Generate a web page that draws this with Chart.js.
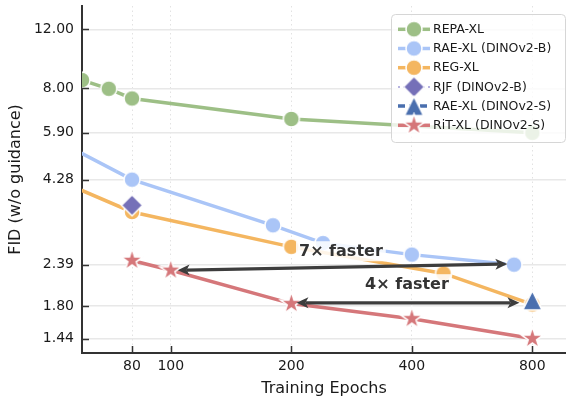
<!DOCTYPE html>
<html>
<head>
<meta charset="utf-8">
<script src="https://cdn.jsdelivr.net/npm/chart.js@4.4.0/dist/chart.umd.min.js"></script>
<style>
  html, body { margin: 0; padding: 0; background: #fff; overflow: hidden; }
</style>
</head>
<body>
<canvas id="fidChart" width="566" height="398"></canvas>
<script>
// values (epochs on x, FID w/o guidance on y)
const repaEpochs = [60, 70, 80, 200, 800];
const repaFid = [8.47, 7.98, 7.47, 6.49, 5.90];
const raeBEpochs = [40, 80, 180, 240, 400, 720];
const raeBFid = [6.6, 4.28, 3.13, 2.77, 2.56, 2.39];
const regEpochs = [40, 80, 200, 480, 800];
const regFid = [4.89, 3.43, 2.70, 2.25, 1.82];
const rjfEpochs = [80];
const rjfFid = [3.59];
const raeSEpochs = [800];
const raeSFid = [1.87];
const ritEpochs = [80, 100, 200, 400, 800];
const ritFid = [2.46, 2.30, 1.83, 1.65, 1.44];

const xTicks = [80, 100, 200, 400, 800];
const yTicks = [1.44, 1.80, 2.39, 4.28, 5.90, 8.00, 12.00];

const FONT = "'DejaVu Sans', sans-serif";
const TEXT = '#1a1a1a';
const AXIS = '#333333';

// small canvases used as point styles (matplotlib-like markers with white edge)
function makeMarker(shape, color, size) {
    const c = document.createElement('canvas');
    const dim = Math.ceil(size * 2 + 4);
    c.width = dim;
    c.height = dim;
    const g = c.getContext('2d');
    const m = dim / 2;
    g.beginPath();
    if (shape === 'circle') {
        g.arc(m, m, size, 0, Math.PI * 2);
    } else if (shape === 'diamond') {
        g.moveTo(m, m - size);
        g.lineTo(m + size, m);
        g.lineTo(m, m + size);
        g.lineTo(m - size, m);
    } else if (shape === 'triangle') {
        g.moveTo(m, m - size);
        g.lineTo(m + size, m + size);
        g.lineTo(m - size, m + size);
    } else if (shape === 'star') {
        for (let i = 0; i < 10; i++) {
            const r = i % 2 === 0 ? size : size * 0.382;
            const a = -Math.PI / 2 + i * Math.PI / 5;
            const px = m + r * Math.cos(a);
            const py = m + r * Math.sin(a);
            if (i === 0) g.moveTo(px, py); else g.lineTo(px, py);
        }
    }
    g.closePath();
    g.fillStyle = color;
    g.fill();
    g.lineWidth = 1.5;
    g.strokeStyle = '#ffffff';
    g.stroke();
    return c;
}

const series = [
    { label: 'REPA-XL', x: repaEpochs, y: repaFid, color: '#9dbf86', shape: 'circle', size: 8, dash: [], order: 6 },
    { label: 'RAE-XL (DINOv2-B)', x: raeBEpochs, y: raeBFid, color: '#aac5f7', shape: 'circle', size: 8, dash: [], order: 5 },
    { label: 'REG-XL', x: regEpochs, y: regFid, color: '#f4b660', shape: 'circle', size: 8, dash: [], order: 4 },
    { label: 'RJF (DINOv2-B)', x: rjfEpochs, y: rjfFid, color: '#7570b8', shape: 'diamond', size: 10.5, dash: [2, 3], lineColor: '#b7b4e0', order: 3 },
    { label: 'RAE-XL (DINOv2-S)', x: raeSEpochs, y: raeSFid, color: '#4a6fae', shape: 'triangle', size: 9.5, dash: [7, 4], order: 2 },
    { label: 'RiT-XL (DINOv2-S)', x: ritEpochs, y: ritFid, color: '#d5777a', shape: 'star', size: 11.5, dash: [], order: 1 }
];
series.forEach(s => { s.marker = makeMarker(s.shape, s.color, s.size); });

// speed-up annotations, placed in data coordinates
const notes = [
    { text: '7\u00d7 faster', at: [266, 2.62], from: [104, 2.30], to: [693, 2.40] },
    { text: '4\u00d7 faster', at: [389, 2.09], from: [206, 1.84], to: [743, 1.84] }
];

function arrowHead(ctx, x, y, ang) {
    const len = 12, half = 5.5, notch = 3;
    ctx.save();
    ctx.translate(x, y);
    ctx.rotate(ang);
    ctx.beginPath();
    ctx.moveTo(0, 0);
    ctx.lineTo(-len, -half);
    ctx.lineTo(-len + notch, 0);
    ctx.lineTo(-len, half);
    ctx.closePath();
    ctx.fill();
    ctx.restore();
}

// fixed axis boxes, no extra room for half tick labels
function fixBox(size) {
    return s => {
        if (s.isHorizontal()) s.height = size; else s.width = size;
        s.paddingTop = 0;
        s.paddingBottom = 0;
        s.paddingLeft = 0;
        s.paddingRight = 0;
    };
}

const overlay = {
    id: 'overlay',
    afterDatasetsDraw(chart) {
        const ctx = chart.ctx;
        const xs = chart.scales.x, ys = chart.scales.y;
        const area = chart.chartArea;

        // inward tick marks
        ctx.save();
        ctx.strokeStyle = AXIS;
        ctx.lineWidth = 1.5;
        ctx.beginPath();
        yTicks.forEach(v => {
            const py = Math.round(ys.getPixelForValue(v)) + 0.5;
            ctx.moveTo(area.left, py);
            ctx.lineTo(area.left + 7, py);
        });
        xTicks.forEach(v => {
            const px = Math.round(xs.getPixelForValue(v)) + 0.5;
            ctx.moveTo(px, area.bottom);
            ctx.lineTo(px, area.bottom - 7);
        });
        ctx.stroke();
        ctx.restore();

        // annotation text with white box
        ctx.save();
        ctx.font = 'bold 16px ' + FONT;
        ctx.textAlign = 'center';
        ctx.textBaseline = 'middle';
        notes.forEach(n => {
            const px = xs.getPixelForValue(n.at[0]);
            const py = ys.getPixelForValue(n.at[1]);
            const w = ctx.measureText(n.text).width;
            ctx.fillStyle = 'rgba(255,255,255,0.85)';
            ctx.fillRect(px - w / 2 - 3, py - 10, w + 6, 20);
            ctx.fillStyle = '#333333';
            ctx.fillText(n.text, px, py + 1);
        });
        ctx.restore();

        // double-headed arrows
        ctx.save();
        ctx.strokeStyle = '#3d3d3d';
        ctx.fillStyle = '#3d3d3d';
        ctx.lineWidth = 3.2;
        notes.forEach(n => {
            const x1 = xs.getPixelForValue(n.from[0]), y1 = ys.getPixelForValue(n.from[1]);
            const x2 = xs.getPixelForValue(n.to[0]), y2 = ys.getPixelForValue(n.to[1]);
            const ang = Math.atan2(y2 - y1, x2 - x1);
            const dx = Math.cos(ang) * 9, dy = Math.sin(ang) * 9;
            ctx.beginPath();
            ctx.moveTo(x1 + dx, y1 + dy);
            ctx.lineTo(x2 - dx, y2 - dy);
            ctx.stroke();
            arrowHead(ctx, x2, y2, ang);
            arrowHead(ctx, x1, y1, ang + Math.PI);
        });
        ctx.restore();

        // legend
        const lx = 391, ly = 14, lw = 174, lh = 128;
        ctx.save();
        ctx.beginPath();
        ctx.roundRect(lx + 0.5, ly + 0.5, lw, lh, 4);
        ctx.fillStyle = 'rgba(255,255,255,0.8)';
        ctx.fill();
        ctx.strokeStyle = '#d6d6d6';
        ctx.lineWidth = 1;
        ctx.stroke();
        ctx.font = '12.5px ' + FONT;
        ctx.textBaseline = 'middle';
        ctx.textAlign = 'left';
        series.forEach((s, i) => {
            const cy = 29.3 + i * 19.2;
            ctx.strokeStyle = s.lineColor || s.color;
            ctx.lineWidth = s.dash.length && s.dash[0] < 3 ? 2 : 3.5;
            ctx.setLineDash(s.dash);
            ctx.beginPath();
            ctx.moveTo(398, cy);
            ctx.lineTo(430, cy);
            ctx.stroke();
            ctx.setLineDash([]);
            ctx.drawImage(s.marker, 414 - s.marker.width / 2, cy - s.marker.height / 2);
            ctx.fillStyle = TEXT;
            ctx.fillText(s.label, 433, cy + 0.5);
        });
        ctx.restore();
    }
};

new Chart(document.getElementById('fidChart'), {
    type: 'line',
    data: {
        datasets: series.map(s => ({
            label: s.label,
            data: s.x.map((e, i) => ({ x: e, y: s.y[i] })),
            borderColor: s.color,
            backgroundColor: s.color,
            borderWidth: 3.5,
            pointStyle: s.marker,
            pointRadius: s.size,
            pointBorderWidth: 0,
            order: s.order,
            clip: 0,
            tension: 0
        }))
    },
    options: {
        responsive: false,
        animation: false,
        events: [],
        layout: { autoPadding: false, padding: { top: 6, right: 0, bottom: 0, left: 0 } },
        plugins: { legend: { display: false }, tooltip: { enabled: false } },
        scales: {
            x: {
                type: 'logarithmic',
                bounds: 'data',
                min: 60,
                max: 971,
                afterBuildTicks: s => { s.ticks = xTicks.map(v => ({ value: v })); },
                afterFit: fixBox(45),
                ticks: {
                    autoSkip: false,
                    maxRotation: 0,
                    padding: 5,
                    color: TEXT,
                    font: { family: FONT, size: 14 },
                    callback: v => String(v)
                },
                grid: { color: '#e2e2e2', lineWidth: 1, drawTicks: false },
                border: { display: true, color: AXIS, width: 2, dash: [1.5, 3] },
                title: {
                    display: true,
                    text: 'Training Epochs',
                    color: TEXT,
                    font: { family: FONT, size: 16 },
                    padding: { top: 0, bottom: 0 }
                }
            },
            y: {
                type: 'logarithmic',
                bounds: 'data',
                min: 1.304,
                max: 14.08,
                afterBuildTicks: s => { s.ticks = yTicks.map(v => ({ value: v })); },
                afterFit: fixBox(82),
                ticks: {
                    autoSkip: false,
                    padding: 8,
                    color: TEXT,
                    font: { family: FONT, size: 14 },
                    callback: v => Number(v).toFixed(2)
                },
                grid: { color: '#e8e8e8', lineWidth: 1.5, drawTicks: false },
                border: { display: true, color: AXIS, width: 2 },
                title: {
                    display: true,
                    text: 'FID (w/o guidance)',
                    color: TEXT,
                    font: { family: FONT, size: 16 },
                    padding: { top: 6, bottom: 0 }
                }
            }
        }
    },
    plugins: [overlay]
});
</script>
</body>
</html>
